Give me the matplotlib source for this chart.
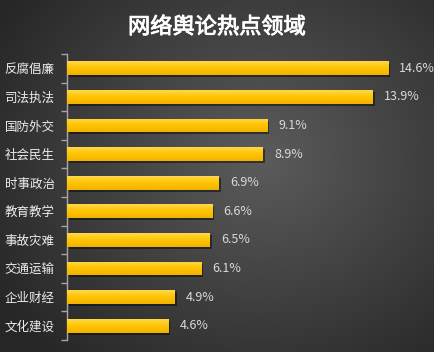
import numpy as np
import matplotlib
matplotlib.use('Agg')
import matplotlib.pyplot as plt
import matplotlib.patheffects as pe
from matplotlib.colors import LinearSegmentedColormap

plt.rcParams['font.family'] = ['Noto Sans CJK SC', 'DejaVu Sans']

# datos
categorias = ['反腐倡廉', '司法执法', '国防外交', '社会民生', '时事政治',
              '教育教学', '事故灾难', '交通运输', '企业财经', '文化建设']
valores = [14.6, 13.9, 9.1, 8.9, 6.9, 6.6, 6.5, 6.1, 4.9, 4.6]
etiquetas = ['14.6%', '13.9%', '9.1%', '8.9%', '6.9%', '6.6%', '6.5%', '6.1%', '4.9%', '4.6%']

fig = plt.figure(figsize=(4.34, 3.52), dpi=100)

# fondo con degradado radial
bg = fig.add_axes([0, 0, 1, 1], zorder=-10)
yy, xx = np.mgrid[0:1:352j, 0:1:434j]
r = np.sqrt(((xx - 0.6) / 0.75) ** 2 + ((yy - 0.55) / 0.8) ** 2)
v = np.clip(0.36 - 0.22 * r, 0.15, 0.36)
bg.imshow(np.dstack([v, v, v]), aspect='auto', extent=[0, 1, 0, 1], origin='lower')
bg.axis('off')

ax = fig.add_axes([67 / 434, 12 / 352, 1 - 67 / 434, (340 - 54) / 352])
ax.patch.set_alpha(0)
y = np.arange(len(categorias))
bars = ax.barh(y, valores, height=0.48, color='#ffc000', zorder=3, linewidth=0,
               path_effects=[pe.SimplePatchShadow(offset=(1.5, -1.5), alpha=0.45, shadow_rgbFace='black'),
                             pe.Normal()])

# degradado amarillo dentro de cada barra
cmap = LinearSegmentedColormap.from_list('oro', ['#f2b200', '#ffc400', '#ffd84a'])
grad = np.linspace(0, 1, 64).reshape(-1, 1)
for b in bars:
    x0, y0 = b.get_x(), b.get_y()
    im = ax.imshow(grad, cmap=cmap, aspect='auto', zorder=4, origin='upper',
                   extent=[x0, x0 + b.get_width(), y0, y0 + b.get_height()])
    im.set_clip_path(b)

for yi, val, lab in zip(y, valores, etiquetas):
    ax.annotate(lab, (val, yi), xytext=(8, 0), textcoords='offset points',
                va='center', ha='left', color='#d9d9d9', fontsize=9)

ax.set_xlim(0, 367 / 22)
ax.set_ylim(len(categorias) - 0.5, -0.5)
ax.set_yticks(y)
ax.set_yticklabels(categorias, color='#ececec', fontsize=9)
ax.set_yticks(np.arange(len(categorias) + 1) - 0.5, minor=True)
ax.tick_params(axis='y', which='major', length=0, pad=9)
ax.tick_params(axis='y', which='minor', length=4, color='#a6a6a6', width=1)
ax.set_xticks([])
for s in ['top', 'right', 'bottom']:
    ax.spines[s].set_visible(False)
ax.spines['left'].set_color('#a6a6a6')
ax.spines['left'].set_linewidth(1)

fig.text(0.5, 1 - 27 / 352, '网络舆论热点领域', ha='center', va='center',
         color='white', fontsize=16, fontweight='medium',
         path_effects=[pe.withStroke(linewidth=0.6, foreground='white')])

fig.savefig('out.png', dpi=100)
